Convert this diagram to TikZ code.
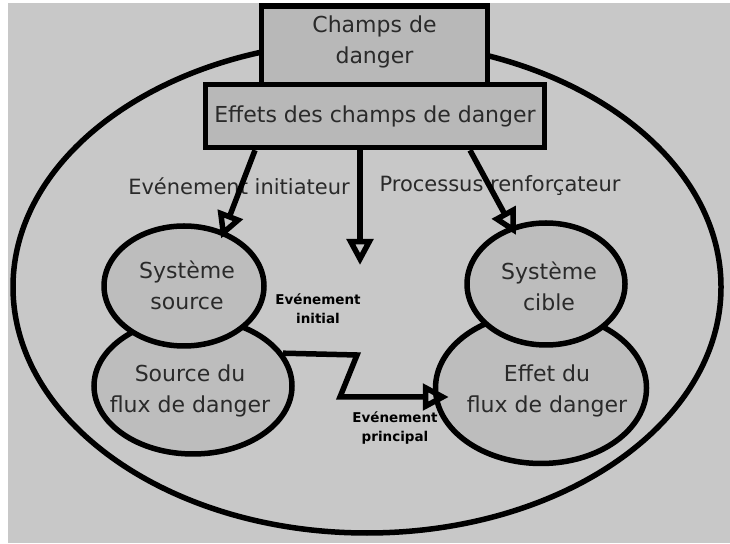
\documentclass[tikz,border=0pt]{standalone}
\usepackage{fontspec}
\setmainfont{DejaVu Sans}
\usetikzlibrary{arrows.meta,shapes.geometric}

\definecolor{fond}{HTML}{C8C8C8}
\definecolor{boite}{HTML}{B8B8B8}
\definecolor{bulle}{HTML}{BDBDBD}
\definecolor{encre}{HTML}{2A2A2A}

\tikzset{
    trait/.style={line width=5.5pt},
    cadre/.style={draw, trait, fill=boite, rectangle, inner sep=0pt},
    bulle/.style={draw, trait, fill=bulle, ellipse, inner sep=0pt},
    texte/.style={align=center, text=encre, inner sep=0pt, font=\fontsize{22}{31}\selectfont},
    legende/.style={texte, font=\fontsize{21}{31}\selectfont},
    fleche/.style={trait, -{Triangle[open, length=26pt, width=26pt]}},
    etiq/.style={align=center, inner sep=0pt, font=\bfseries\fontsize{13.5}{19}\selectfont},
}

\begin{document}
\begin{tikzpicture}[x=1pt, y=1pt]
    \useasboundingbox (0,0) rectangle (730,543);
    \fill[fond] (8,0) rectangle (730,540);

    % Grande ellipse du systeme
    \draw[trait] (367,256) ellipse [x radius=354, y radius=246];

    % Champs de danger et leurs effets
    \node[cadre, minimum width=226, minimum height=80] (cd) at (374.5,497) {};
    \node[texte] (cdTxt) at (374.5,501) {Champs de\\danger};
    \node[cadre, minimum width=339, minimum height=63] (fx) at (375,427) {};
    \node[texte] (fxTxt) at (fx) {Effets des champs de danger};

    % Systeme source
    \node[bulle, minimum width=198, minimum height=136] (srcFlux) at (193,157) {};
    \node[bulle, minimum width=160, minimum height=120] (sysSrc) at (184,257) {};
    \node[texte] (sysSrcTxt) at (187,258) {Système\\source};
    \node[texte] (srcFluxTxt) at (190,152) {Source du\\flux de danger};

    % Systeme cible
    \node[bulle, minimum width=211, minimum height=151] (effFlux) at (541,155) {};
    \node[bulle, minimum width=158, minimum height=122] (sysCib) at (546,259) {};
    \node[texte] (sysCibTxt) at (549,257) {Système\\cible};
    \node[texte] (effFluxTxt) at (547,152) {Effet du\\flux de danger};

    % Etiquettes
    \node[legende] (init) at (239,357) {Evénement initiateur};
    \node[legende] (renf) at (500,357) {Processus renforçateur};
    \node[etiq] (evInit) at (318,234) {Evénement\\initial};
    \node[etiq] (evPrinc) at (395,115) {Evénement\\principal};

    % Fleches
    \coordinate (pointe) at (360,278);
    \draw[fleche, shorten >=-8pt] ([xshift=-120pt]fx.south) -- (sysSrc.54);
    \draw[fleche] (fx.south -| pointe) -- (pointe);
    \draw[fleche, shorten >=-10pt] ([xshift=95pt]fx.south) -- (sysCib.121);

    % Flux de danger
    \coordinate (z1) at (357,188);
    \coordinate (z2) at (340,146);
    \draw[fleche, shorten >=-16pt] (srcFlux.20) -- (z1) -- (z2) -- (z2 -| effFlux.west);
\end{tikzpicture}
\end{document}
